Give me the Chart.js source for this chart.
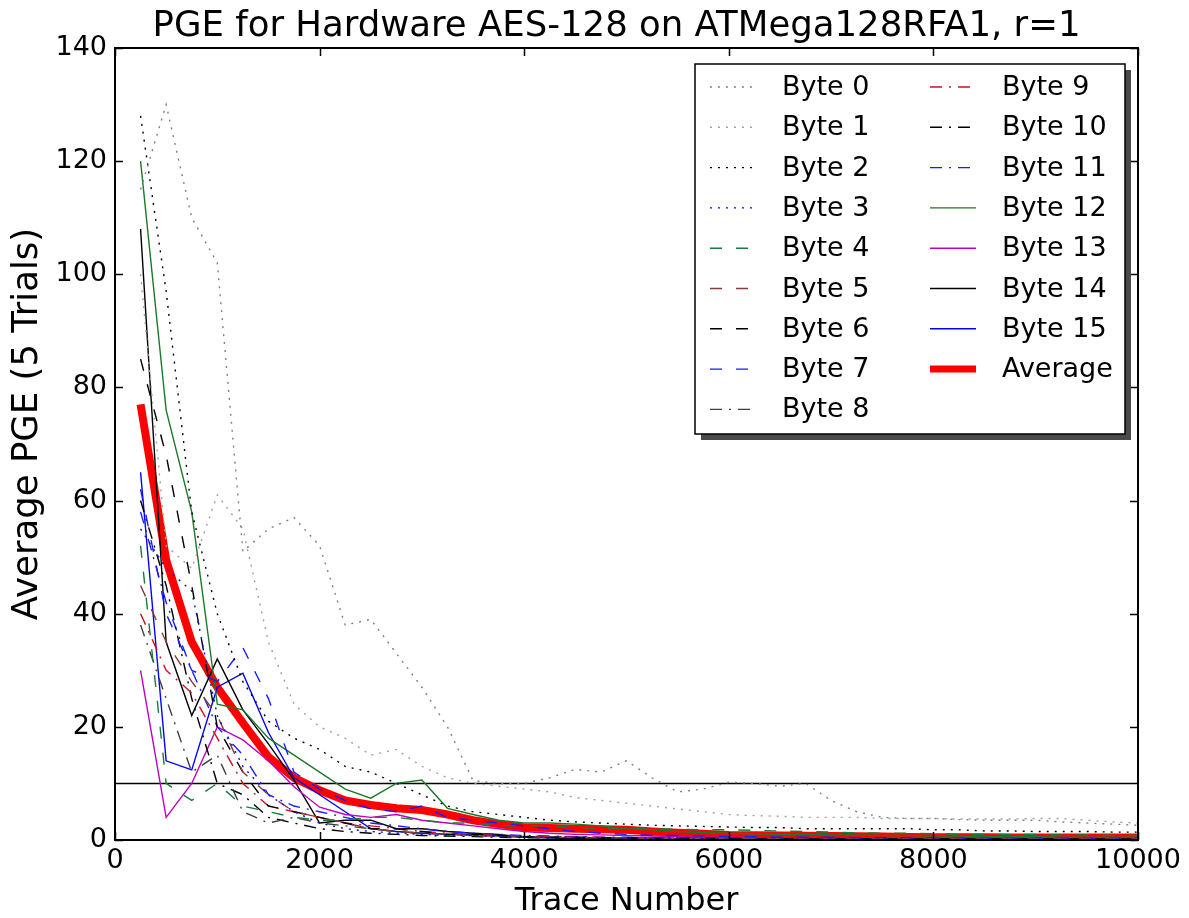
<!DOCTYPE html>
<html>
<head>
<meta charset="utf-8">
<script src="https://cdn.jsdelivr.net/npm/chart.js@4.4.1/dist/chart.umd.min.js"></script>
<style>
  html, body { margin: 0; padding: 0; background: #fff; }
  #wrap { width: 1189px; height: 918px; }
</style>
</head>
<body>
<div id="wrap"><canvas id="pgeChart" width="1189" height="918"></canvas></div>
<script>
// Trace numbers where the PGE was evaluated
const traces = [250, 500, 750, 1000, 1250, 1500, 1750, 2000, 2250, 2500,
  2750, 3000, 3250, 3500, 3750, 4000, 4250, 4500, 4750, 5000,
  5250, 5500, 5750, 6000, 6250, 6500, 6750, 7000, 7250, 7500,
  7750, 8000, 8250, 8500, 8750, 9000, 9250, 9500, 9750, 10000];

// Average PGE per key byte
const byte0 = [115, 130, 110, 102, 51, 55, 57, 52, 38, 39, 33, 27, 20, 10.5, 10, 10, 11, 12.5, 12, 14,
  11, 8.5, 9, 10.2, 10, 9.5, 10, 7, 5, 4, 3.8, 3.8, 3.6, 3.5, 3.5, 3.5, 3.2, 3, 2.8, 2.6];
const byte1 = [100, 52, 48, 61, 55, 35, 24, 20, 18, 15, 16, 13, 11, 10, 9.5, 9, 8.5, 7.5, 7, 6.5,
  6, 5.5, 5, 4.5, 4.3, 4.2, 4, 4, 4, 3.8, 3.8, 3.8, 3.7, 3.7, 3.7, 3.8, 3.8, 3.5, 3.2, 3];
const byte2 = [128, 97, 58, 40, 28, 21, 18, 16, 13, 12, 10, 8, 6, 5, 4.5, 4, 3.5, 3.2, 3, 2.8,
  2.6, 2.5, 2.4, 2.3, 2.2, 2.2, 2, 2, 2, 2, 2, 1.8, 1.8, 1.6, 1.6, 1.5, 1.5, 1.5, 1.4, 1.4];
const byte3 = [55, 48, 44, 22, 13, 8, 5, 3, 2, 1.5, 1.2, 1, 0.8, 0.8, 0.6, 0.5, 0.5, 0.4, 0.4, 0.3,
  0.3, 0.3, 0.3, 0.2, 0.2, 0.2, 0.2, 0.2, 0.2, 0.2, 0.1, 0.1, 0.1, 0.1, 0.1, 0.1, 0.1, 0.1, 0.1, 0.1];
const byte4 = [52, 10, 7, 10, 6, 5, 4, 3.5, 3.5, 4, 4, 3.5, 3, 3, 2.5, 2.5, 2.5, 2.2, 2, 2,
  2, 1.9, 1.8, 1.8, 1.7, 1.6, 1.5, 1.4, 1.3, 1.2, 1.2, 1.1, 1, 1, 1, 1, 0.9, 0.9, 0.8, 0.8];
const byte5 = [45, 35, 28, 22, 12, 8, 5, 4, 3, 2, 1.5, 1.2, 1, 0.8, 0.6, 0.5, 0.5, 0.4, 0.4, 0.4,
  0.3, 0.3, 0.3, 0.3, 0.3, 0.2, 0.2, 0.2, 0.2, 0.2, 0.2, 0.2, 0.2, 0.2, 0.2, 0.2, 0.2, 0.2, 0.2, 0.2];
const byte6 = [85, 68, 45, 20, 12, 6, 5, 4, 3, 2, 2, 1.5, 1, 1, 0.8, 0.6, 0.5, 0.5, 0.4, 0.4,
  0.3, 0.3, 0.3, 0.3, 0.2, 0.2, 0.2, 0.2, 0.2, 0.2, 0.2, 0.2, 0.2, 0.2, 0.2, 0.2, 0.2, 0.2, 0.2, 0.2];
const byte7 = [62, 40, 30, 28, 34, 25, 12, 9, 7, 5.5, 5, 6, 4, 3.5, 3, 2.5, 2, 1.5, 1.2, 1,
  0.8, 0.8, 0.7, 0.6, 0.6, 0.5, 0.5, 0.5, 0.4, 0.4, 0.4, 0.4, 0.3, 0.3, 0.3, 0.3, 0.3, 0.3, 0.3, 0.3];
const byte8 = [38, 25, 12, 15, 5, 3, 4, 3, 2.5, 2, 1.5, 1.2, 1, 0.8, 0.7, 0.6, 0.5, 0.5, 0.4, 0.4,
  0.4, 0.3, 0.3, 0.3, 0.3, 0.3, 0.2, 0.2, 0.2, 0.2, 0.2, 0.2, 0.2, 0.2, 0.2, 0.2, 0.2, 0.2, 0.2, 0.2];
const byte9 = [40, 30, 26, 18, 10, 6, 5, 4, 3, 2.5, 2, 1.5, 1.2, 1, 0.8, 0.7, 0.6, 0.5, 0.5, 0.4,
  0.4, 0.4, 0.3, 0.3, 0.3, 0.3, 0.3, 0.2, 0.2, 0.2, 0.2, 0.2, 0.2, 0.2, 0.2, 0.2, 0.2, 0.2, 0.2, 0.2];
const byte10 = [60, 45, 25, 10, 8, 4, 3, 2, 1.5, 1.2, 1, 0.8, 0.7, 0.6, 0.5, 0.4, 0.4, 0.3, 0.3, 0.3,
  0.3, 0.2, 0.2, 0.2, 0.2, 0.2, 0.2, 0.2, 0.2, 0.2, 0.1, 0.1, 0.1, 0.1, 0.1, 0.1, 0.1, 0.1, 0.1, 0.1];
const byte11 = [58, 42, 30, 20, 15, 8, 6, 5, 4, 3, 2.5, 2, 1.5, 1.2, 1, 0.8, 0.7, 0.6, 0.5, 0.5,
  0.4, 0.4, 0.4, 0.3, 0.3, 0.3, 0.3, 0.3, 0.2, 0.2, 0.2, 0.2, 0.2, 0.2, 0.2, 0.2, 0.2, 0.2, 0.2, 0.2];
const byte12 = [120, 76, 58, 24, 23, 18, 15, 12, 9, 7.4, 10, 10.6, 5.6, 4.5, 3.5, 3, 3, 2.8, 2.5, 2,
  1.8, 1.5, 1.3, 1.2, 1.1, 1, 1, 0.9, 0.9, 0.8, 0.8, 0.7, 0.7, 0.6, 0.6, 0.6, 0.5, 0.5, 0.5, 0.5];
const byte13 = [30, 4, 10, 20, 17.7, 14, 9.4, 5.8, 4.5, 4, 4.5, 3.5, 3, 2.5, 2, 1.5, 1.2, 1, 0.9, 0.8,
  0.7, 0.6, 0.5, 0.5, 0.4, 0.4, 0.4, 0.3, 0.3, 0.3, 0.3, 0.3, 0.2, 0.2, 0.2, 0.2, 0.2, 0.2, 0.2, 0.2];
const byte14 = [108, 35, 22, 32, 23, 17, 10.6, 3, 3.5, 3.5, 2, 2, 1.5, 1.2, 1, 0.5, 0.4, 0.3, 0.3, 0.2,
  0.2, 0.2, 0.2, 0.2, 0.1, 0.1, 0.1, 0.1, 0.1, 0.1, 0.1, 0.1, 0.1, 0.1, 0.1, 0.1, 0.1, 0.1, 0.1, 0.1];
const byte15 = [65, 14, 12.4, 27, 29.5, 19, 11, 8, 5, 2, 1.5, 1.2, 1, 1, 0.8, 0.5, 0.4, 0.3, 0.3, 0.3,
  0.2, 0.2, 0.2, 0.2, 0.2, 0.1, 0.1, 0.1, 0.1, 0.1, 0.1, 0.1, 0.1, 0.1, 0.1, 0.1, 0.1, 0.1, 0.1, 0.1];
const average = [77, 49.5, 35, 27, 20.7, 14.7, 11, 8.8, 7, 6.2, 5.6, 5.3, 4.5, 3.5, 2.8, 2.2, 2.1, 2, 1.9, 1.8,
  1.5, 1.3, 1.1, 0.9, 0.85, 0.8, 0.75, 0.7, 0.65, 0.6, 0.55, 0.5, 0.5, 0.5, 0.45, 0.45, 0.45, 0.45, 0.45, 0.45];

// Threshold line drawn at PGE = 10
const threshold = 10;

const xTicks = [0, 2000, 4000, 6000, 8000, 10000];
const yTicks = [0, 20, 40, 60, 80, 100, 120, 140];

const titleText = 'PGE for Hardware AES-128 on ATMega128RFA1, r=1';
const xLabel = 'Trace Number';
const yLabel = 'Average PGE (5 Trials)';

const FONT = '"DejaVu Sans", "Bitstream Vera Sans", sans-serif';

// line styles, roughly the old matplotlib ones
const DOT = [2, 6];
const DASH = [12, 14];
const DASHDOT = [12, 7, 2, 7];

const byteSeries = [
  { label: 'Byte 0', values: byte0, color: '#808080', dash: DOT },
  { label: 'Byte 1', values: byte1, color: '#a0a0a0', dash: DOT },
  { label: 'Byte 2', values: byte2, color: '#000000', dash: DOT },
  { label: 'Byte 3', values: byte3, color: '#1010d0', dash: DOT },
  { label: 'Byte 4', values: byte4, color: '#1b7a3e', dash: DASH },
  { label: 'Byte 5', values: byte5, color: '#8a3a3a', dash: DASH },
  { label: 'Byte 6', values: byte6, color: '#000000', dash: DASH },
  { label: 'Byte 7', values: byte7, color: '#1a1aff', dash: DASH },
  { label: 'Byte 8', values: byte8, color: '#404040', dash: DASHDOT },
  { label: 'Byte 9', values: byte9, color: '#d01020', dash: DASHDOT },
  { label: 'Byte 10', values: byte10, color: '#000000', dash: DASHDOT },
  { label: 'Byte 11', values: byte11, color: '#1a1aff', dash: DASHDOT },
  { label: 'Byte 12', values: byte12, color: '#1a7a2a', dash: [] },
  { label: 'Byte 13', values: byte13, color: '#c000c0', dash: [] },
  { label: 'Byte 14', values: byte14, color: '#000000', dash: [] },
  { label: 'Byte 15', values: byte15, color: '#0000ff', dash: [] }
];

function toPoints(values) {
  return traces.map((t, i) => ({ x: t, y: values[i] }));
}

const datasets = byteSeries.map(s => ({
  label: s.label,
  data: toPoints(s.values),
  borderColor: s.color,
  borderDash: s.dash,
  borderWidth: 1.4,
  pointRadius: 0,
  fill: false,
  tension: 0
}));

datasets.push({
  label: 'Average',
  data: toPoints(average),
  borderColor: '#ff0000',
  borderWidth: 8,
  pointRadius: 0,
  fill: false,
  tension: 0
});

// horizontal reference line, kept out of the legend
datasets.push({
  label: 'threshold',
  data: [{ x: 0, y: threshold }, { x: 10000, y: threshold }],
  borderColor: '#000000',
  borderWidth: 1.5,
  pointRadius: 0,
  fill: false,
  isThreshold: true
});

// Draws the frame around the plot and the inward ticks on all four sides
const framePlugin = {
  id: 'frame',
  afterDatasetsDraw(chart) {
    const { ctx, chartArea: a, scales: { x, y } } = chart;
    const len = 8;
    ctx.save();
    ctx.strokeStyle = '#000';
    ctx.lineWidth = 1.5;
    ctx.beginPath();
    x.ticks.forEach(t => {
      const px = Math.round(x.getPixelForValue(t.value)) + 0.5;
      ctx.moveTo(px, a.bottom); ctx.lineTo(px, a.bottom - len);
      ctx.moveTo(px, a.top); ctx.lineTo(px, a.top + len);
    });
    y.ticks.forEach(t => {
      const py = Math.round(y.getPixelForValue(t.value)) + 0.5;
      ctx.moveTo(a.left, py); ctx.lineTo(a.left + len, py);
      ctx.moveTo(a.right, py); ctx.lineTo(a.right - len, py);
    });
    ctx.stroke();
    ctx.lineWidth = 2;
    ctx.strokeRect(a.left, a.top, a.right - a.left, a.bottom - a.top);
    ctx.restore();
  }
};

// Legend box in two columns, with a drop shadow
const legendPlugin = {
  id: 'boxLegend',
  afterDraw(chart) {
    const { ctx } = chart;
    const items = chart.data.datasets.filter(d => !d.isThreshold);
    const box = { x: 695, y: 64, w: 430, h: 370 };
    const rowH = 40.3;
    const perCol = 9;
    ctx.save();
    // shadow
    ctx.fillStyle = '#4a4a4a';
    ctx.fillRect(box.x + 6, box.y + 6, box.w, box.h);
    ctx.fillStyle = '#fff';
    ctx.fillRect(box.x, box.y, box.w, box.h);
    ctx.strokeStyle = '#000';
    ctx.lineWidth = 1.5;
    ctx.strokeRect(box.x, box.y, box.w, box.h);

    ctx.font = '27px ' + FONT;
    ctx.textBaseline = 'middle';
    ctx.fillStyle = '#000';
    items.forEach((d, i) => {
      const col = Math.floor(i / perCol);
      const row = i % perCol;
      const lx = col === 0 ? 710 : 930;
      const tx = col === 0 ? 782 : 1002;
      const cy = box.y + 23 + row * rowH;
      ctx.save();
      ctx.strokeStyle = d.borderColor;
      ctx.lineWidth = Math.min(d.borderWidth, 7);
      ctx.setLineDash(d.borderDash || []);
      ctx.beginPath();
      ctx.moveTo(lx, cy);
      ctx.lineTo(lx + 46, cy);
      ctx.stroke();
      ctx.restore();
      ctx.fillText(d.label, tx, cy + 1);
    });
    ctx.restore();
  }
};

// Title and rotated y-axis label
const textPlugin = {
  id: 'plotText',
  afterDraw(chart) {
    const { ctx, chartArea: a } = chart;
    ctx.save();
    ctx.fillStyle = '#000';
    ctx.textAlign = 'center';
    ctx.font = '35.5px ' + FONT;
    ctx.textBaseline = 'alphabetic';
    ctx.fillText(titleText, (a.left + a.right) / 2 - 10, 36);

    ctx.font = '35.5px ' + FONT;
    ctx.textBaseline = 'middle';
    ctx.translate(28, 424);
    ctx.rotate(-Math.PI / 2);
    ctx.fillText(yLabel, 0, 0);
    ctx.restore();
  }
};

new Chart(document.getElementById('pgeChart'), {
  type: 'line',
  data: { datasets: datasets },
  options: {
    responsive: false,
    animation: false,
    devicePixelRatio: 1,
    layout: { padding: { top: 48, right: 51, left: 0, bottom: 0 } },
    plugins: {
      legend: { display: false },
      title: { display: false },
      tooltip: { enabled: false }
    },
    scales: {
      x: {
        type: 'linear',
        min: 0,
        max: 10000,
        afterBuildTicks: scale => { scale.ticks = xTicks.map(v => ({ value: v })); },
        afterFit: scale => { scale.height = 78; },
        grid: { display: false, drawTicks: false },
        border: { display: false },
        ticks: {
          color: '#000',
          font: { family: FONT, size: 27 },
          padding: 5,
          maxRotation: 0,
          callback: v => String(v)
        },
        title: {
          display: true,
          text: xLabel,
          color: '#000',
          font: { family: FONT, size: 32, lineHeight: 1 },
          padding: { top: 0, bottom: 0 }
        }
      },
      y: {
        type: 'linear',
        min: 0,
        max: 140,
        afterBuildTicks: scale => { scale.ticks = yTicks.map(v => ({ value: v })); },
        afterFit: scale => { scale.width = 115; },
        grid: { display: false, drawTicks: false },
        border: { display: false },
        ticks: {
          color: '#000',
          font: { family: FONT, size: 27 },
          padding: 8,
          callback: v => String(v)
        },
        title: { display: false }
      }
    }
  },
  plugins: [framePlugin, legendPlugin, textPlugin]
});
</script>
</body>
</html>
